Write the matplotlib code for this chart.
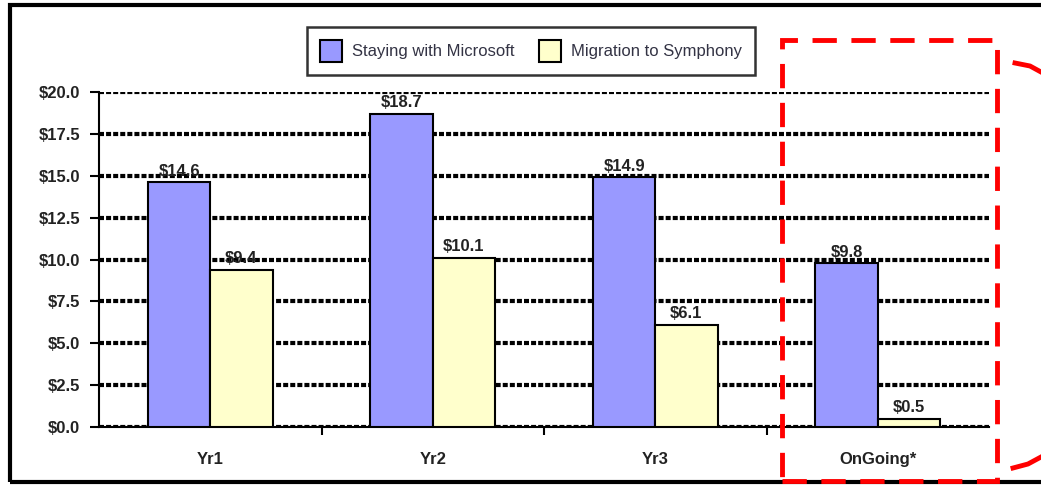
import numpy as np
import matplotlib
matplotlib.use('Agg')
import matplotlib.pyplot as plt
from matplotlib.patches import Rectangle
from matplotlib.lines import Line2D

categories = ['Yr1', 'Yr2', 'Yr3', 'OnGoing*']
microsoft = [14.6, 18.7, 14.9, 9.8]
symphony = [9.4, 10.1, 6.1, 0.5]
series_names = ['Staying with Microsoft', 'Migration to Symphony']
yticks = [0, 2.5, 5, 7.5, 10, 12.5, 15, 17.5, 20]

W, H = 1041, 486
plt.rcParams['font.family'] = ['Liberation Sans', 'DejaVu Sans']

fig = plt.figure(figsize=(W / 100, H / 100), dpi=100)
ax = fig.add_axes([99 / W, 1 - 427 / H, 890 / W, 335 / H])

x = np.arange(len(categories))
bw = 0.28
b1 = ax.bar(x - bw / 2, microsoft, bw, color='#9999FF', edgecolor='black', linewidth=1.5,
            label=series_names[0], zorder=3)
b2 = ax.bar(x + bw / 2, symphony, bw, color='#FFFFCC', edgecolor='black', linewidth=1.5,
            label=series_names[1], zorder=3)

for bars, vals in ((b1, microsoft), (b2, symphony)):
    for r, v in zip(bars, vals):
        ax.text(r.get_x() + r.get_width() / 2, v + 0.2, '$%.1f' % v, ha='center', va='bottom',
                fontsize=12, fontweight='bold', color='#222222', zorder=4)

ax.set_xlim(-0.5, 3.5)
ax.set_ylim(0, 20)
ax.set_yticks(yticks)
ax.set_yticklabels(['$%.1f' % t for t in yticks])
ax.set_xticks(x)
ax.set_xticklabels(categories)
ax.set_xticks(np.arange(0.5, 3.0, 1.0), minor=True)
ax.tick_params(axis='x', which='major', length=0, pad=18)
ax.tick_params(axis='x', which='minor', length=6, width=1.5, direction='out')
ax.tick_params(axis='y', length=6.5, width=1.5, pad=7, direction='out')
for lbl in ax.get_xticklabels() + ax.get_yticklabels():
    lbl.set_fontweight('bold')
    lbl.set_fontsize(12)
    lbl.set_color('#222222')

ax.yaxis.grid(True, color='black', linestyle=(0, (1.2, 0.5)), linewidth=3, zorder=1)
ax.set_axisbelow(True)
for s in ('top', 'right'):
    ax.spines[s].set_visible(False)
ax.spines['left'].set_linewidth(1.5)
ax.spines['bottom'].set_linewidth(1.5)

leg = fig.legend(loc='center', bbox_to_anchor=(531 / W, 1 - 51 / H), ncol=2, fontsize=12,
                 frameon=True, fancybox=False, edgecolor='black', handlelength=1.3,
                 handleheight=1.6, columnspacing=1.5, borderpad=0.8, handletextpad=0.6)
leg.get_frame().set_linewidth(1.8)
for t in leg.get_texts():
    t.set_color('#333344')

# figure frame
fig.patches.append(Rectangle((10 / W, 1 - 482 / H), 1100 / W, 477 / H, transform=fig.transFigure,
                             fill=False, edgecolor='black', linewidth=3))
# red dashed highlight box
fig.patches.append(Rectangle((782 / W, 1 - 481 / H), 215 / W, 441 / H, transform=fig.transFigure,
                             fill=False, edgecolor='red', linewidth=3.5, linestyle=(0, (5, 3))))
# red bracket fragments at the right edge
fig.lines.append(Line2D([1015 / W, 1030 / W, 1041 / W], [1 - 63 / H, 1 - 66 / H, 1 - 72 / H],
                        transform=fig.transFigure, color='red', linewidth=3.5))
fig.lines.append(Line2D([1013 / W, 1028 / W, 1041 / W], [1 - 468 / H, 1 - 464 / H, 1 - 457 / H],
                        transform=fig.transFigure, color='red', linewidth=3.5))

fig.savefig('out.png', dpi=100)
